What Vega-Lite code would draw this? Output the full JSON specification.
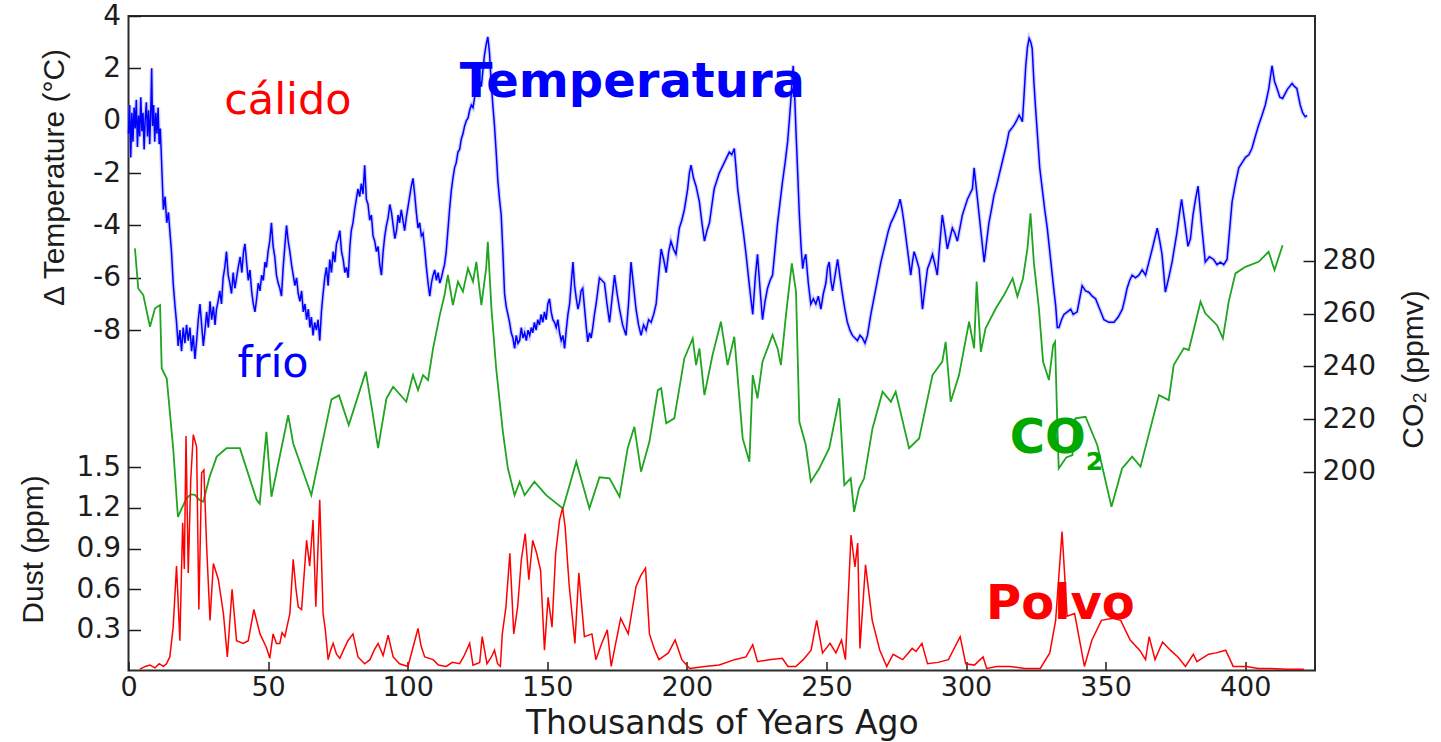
{
  "$schema": "https://vega.github.io/schema/vega-lite/v6.json",
  "width": 1186.5,
  "height": 654.5,
  "autosize": {"type": "none"},
  "padding": {"left": 128.5, "top": 16, "right": 126, "bottom": 71.5},
  "background": "white",
  "config": {
    "view": {"stroke": "#2b2b2b", "strokeWidth": 2},
    "axis": {
      "grid": false,
      "domain": false,
      "labelFont": "DejaVu Sans",
      "labelFontSize": 28,
      "labelColor": "#1c1c1c",
      "labelFlush": false,
      "tickColor": "#1c1c1c",
      "tickWidth": 1.5,
      "titleFont": "Liberation Sans",
      "titleFontWeight": "normal",
      "titleColor": "#1c1c1c"
    }
  },
  "datasets": {
    "temperature": [
      {"age": 0, "t": -0.5}, {"age": 0.4, "t": 0.6}, {"age": 0.8, "t": -1.4}, {"age": 1.2, "t": 0.3}, {"age": 1.6, "t": -0.8},
      {"age": 2, "t": 0.5}, {"age": 2.4, "t": -0.3}, {"age": 2.8, "t": 0.8}, {"age": 3.2, "t": -1.0}, {"age": 3.6, "t": 0.2},
      {"age": 4, "t": -0.6}, {"age": 4.4, "t": 0.9}, {"age": 4.8, "t": -0.4}, {"age": 5.2, "t": 0.3}, {"age": 5.6, "t": -1.1},
      {"age": 6, "t": 0.1}, {"age": 6.4, "t": 0.7}, {"age": 6.8, "t": -0.6}, {"age": 7.2, "t": 0.4}, {"age": 7.6, "t": -0.9},
      {"age": 8, "t": 0.5}, {"age": 8.3, "t": 2.0}, {"age": 8.6, "t": -0.2}, {"age": 9, "t": 0.6}, {"age": 9.4, "t": -0.8},
      {"age": 9.8, "t": 0.3}, {"age": 10.2, "t": -0.5}, {"age": 10.6, "t": 0.5}, {"age": 11, "t": -0.9}, {"age": 11.4, "t": -0.3},
      {"age": 12, "t": -2.0}, {"age": 12.5, "t": -3.4}, {"age": 13.1, "t": -2.9}, {"age": 13.7, "t": -3.9}, {"age": 14.3, "t": -3.5},
      {"age": 14.8, "t": -4.2}, {"age": 15.4, "t": -5.0}, {"age": 16, "t": -6.2}, {"age": 16.6, "t": -7.0}, {"age": 17.2, "t": -7.7},
      {"age": 17.8, "t": -8.6}, {"age": 18.4, "t": -8.0}, {"age": 19, "t": -8.8}, {"age": 19.6, "t": -7.9}, {"age": 20.2, "t": -8.5},
      {"age": 20.8, "t": -7.8}, {"age": 21.4, "t": -8.4}, {"age": 22, "t": -7.9}, {"age": 22.6, "t": -8.8}, {"age": 23.2, "t": -8.2},
      {"age": 23.8, "t": -9.1}, {"age": 24.4, "t": -8.4}, {"age": 25, "t": -7.6}, {"age": 25.6, "t": -7.0}, {"age": 26.2, "t": -7.8},
      {"age": 26.8, "t": -8.6}, {"age": 27.4, "t": -8.0}, {"age": 28, "t": -7.3}, {"age": 28.6, "t": -7.9}, {"age": 29.2, "t": -6.9},
      {"age": 29.8, "t": -7.6}, {"age": 30.4, "t": -7.1}, {"age": 31, "t": -7.8}, {"age": 31.5, "t": -7.2}, {"age": 32.1, "t": -6.9},
      {"age": 32.7, "t": -6.5}, {"age": 33.3, "t": -7.0}, {"age": 33.9, "t": -6.0}, {"age": 34.5, "t": -5.6}, {"age": 35.1, "t": -5.0},
      {"age": 35.7, "t": -5.9}, {"age": 36.3, "t": -6.2}, {"age": 36.9, "t": -6.6}, {"age": 37.5, "t": -5.8}, {"age": 38.1, "t": -6.4},
      {"age": 38.7, "t": -6.0}, {"age": 39.3, "t": -5.6}, {"age": 40, "t": -5.2}, {"age": 40.6, "t": -5.8}, {"age": 41.2, "t": -5.0},
      {"age": 41.7, "t": -4.7}, {"age": 42.3, "t": -5.4}, {"age": 42.9, "t": -6.1}, {"age": 43.5, "t": -5.7}, {"age": 44.1, "t": -6.5},
      {"age": 44.7, "t": -7.0}, {"age": 45.3, "t": -7.3}, {"age": 45.9, "t": -6.8}, {"age": 46.5, "t": -6.2}, {"age": 47.1, "t": -6.5},
      {"age": 47.7, "t": -5.9}, {"age": 48.3, "t": -6.1}, {"age": 48.9, "t": -5.4}, {"age": 49.4, "t": -5.6}, {"age": 50, "t": -5.0},
      {"age": 50.6, "t": -4.6}, {"age": 51.2, "t": -3.9}, {"age": 51.8, "t": -4.8}, {"age": 52.4, "t": -5.2}, {"age": 53, "t": -5.9},
      {"age": 53.6, "t": -6.2}, {"age": 54.2, "t": -6.4}, {"age": 54.8, "t": -6.7}, {"age": 55.4, "t": -5.6}, {"age": 56, "t": -4.8},
      {"age": 56.6, "t": -4.0}, {"age": 57.2, "t": -4.6}, {"age": 57.8, "t": -5.0}, {"age": 58.4, "t": -5.5}, {"age": 59, "t": -5.9},
      {"age": 59.6, "t": -6.3}, {"age": 60.2, "t": -6.0}, {"age": 60.8, "t": -6.6}, {"age": 61.4, "t": -6.9}, {"age": 62, "t": -6.5},
      {"age": 62.6, "t": -7.3}, {"age": 63.2, "t": -7.0}, {"age": 63.8, "t": -7.6}, {"age": 64.4, "t": -7.2}, {"age": 65, "t": -7.9},
      {"age": 65.5, "t": -7.5}, {"age": 66.1, "t": -8.2}, {"age": 66.7, "t": -7.7}, {"age": 67.3, "t": -8.0}, {"age": 67.9, "t": -7.6},
      {"age": 68.5, "t": -8.4}, {"age": 69.1, "t": -7.3}, {"age": 69.7, "t": -6.6}, {"age": 70.3, "t": -6.0}, {"age": 70.9, "t": -5.6},
      {"age": 71.5, "t": -6.3}, {"age": 72.1, "t": -5.3}, {"age": 72.7, "t": -5.8}, {"age": 73.3, "t": -5.0}, {"age": 73.9, "t": -5.4},
      {"age": 74.5, "t": -4.7}, {"age": 75.1, "t": -4.5}, {"age": 75.7, "t": -4.2}, {"age": 76.3, "t": -5.0}, {"age": 76.9, "t": -5.3},
      {"age": 77.5, "t": -5.8}, {"age": 78.1, "t": -5.6}, {"age": 78.7, "t": -6.0}, {"age": 79.3, "t": -4.8}, {"age": 79.8, "t": -4.2},
      {"age": 80.4, "t": -3.9}, {"age": 81, "t": -3.4}, {"age": 81.6, "t": -3.0}, {"age": 82.2, "t": -2.6}, {"age": 82.8, "t": -2.9},
      {"age": 83.4, "t": -2.4}, {"age": 84, "t": -2.8}, {"age": 84.6, "t": -1.7}, {"age": 85.2, "t": -3.0}, {"age": 85.8, "t": -3.2},
      {"age": 86.4, "t": -3.8}, {"age": 87, "t": -3.6}, {"age": 87.6, "t": -4.4}, {"age": 88.2, "t": -4.6}, {"age": 88.8, "t": -5.0},
      {"age": 89.4, "t": -4.8}, {"age": 90, "t": -5.5}, {"age": 90.6, "t": -5.9}, {"age": 91.2, "t": -5.0}, {"age": 91.8, "t": -4.4},
      {"age": 92.4, "t": -4.0}, {"age": 93, "t": -3.7}, {"age": 93.6, "t": -3.2}, {"age": 94.2, "t": -3.5}, {"age": 94.8, "t": -4.0},
      {"age": 95.4, "t": -4.5}, {"age": 96, "t": -4.2}, {"age": 96.6, "t": -3.6}, {"age": 97.1, "t": -3.9}, {"age": 97.7, "t": -3.4},
      {"age": 98.3, "t": -3.8}, {"age": 98.9, "t": -4.2}, {"age": 99.5, "t": -3.7}, {"age": 100.1, "t": -3.3}, {"age": 100.7, "t": -2.9},
      {"age": 101.3, "t": -2.5}, {"age": 101.9, "t": -2.2}, {"age": 102.5, "t": -2.8}, {"age": 103.1, "t": -3.5}, {"age": 103.7, "t": -4.1},
      {"age": 104.3, "t": -3.9}, {"age": 104.9, "t": -4.4}, {"age": 105.5, "t": -4.3}, {"age": 106.1, "t": -4.9}, {"age": 106.7, "t": -5.6},
      {"age": 107.3, "t": -6.2}, {"age": 107.9, "t": -6.7}, {"age": 108.5, "t": -6.2}, {"age": 109.1, "t": -5.9}, {"age": 109.7, "t": -5.7},
      {"age": 110.3, "t": -6.1}, {"age": 110.9, "t": -5.8}, {"age": 111.5, "t": -6.2}, {"age": 112.1, "t": -6.0}, {"age": 112.7, "t": -5.7},
      {"age": 113.2, "t": -5.5}, {"age": 113.8, "t": -5.0}, {"age": 114.4, "t": -4.2}, {"age": 115, "t": -3.4}, {"age": 115.6, "t": -2.7},
      {"age": 116.2, "t": -2.2}, {"age": 116.8, "t": -1.8}, {"age": 117.4, "t": -1.6}, {"age": 118, "t": -1.2}, {"age": 118.6, "t": -1.1},
      {"age": 119.2, "t": -0.7}, {"age": 119.8, "t": -0.5}, {"age": 120.4, "t": -0.2}, {"age": 121, "t": 0.0}, {"age": 121.6, "t": 0.1},
      {"age": 122.2, "t": 0.4}, {"age": 122.8, "t": 0.6}, {"age": 123.4, "t": 0.5}, {"age": 124, "t": 0.9}, {"age": 124.6, "t": 1.1},
      {"age": 125.2, "t": 1.0}, {"age": 125.8, "t": 1.5}, {"age": 126.4, "t": 1.3}, {"age": 127, "t": 2.0}, {"age": 127.5, "t": 2.5},
      {"age": 128.1, "t": 2.9}, {"age": 128.7, "t": 3.2}, {"age": 129.3, "t": 2.6}, {"age": 129.9, "t": 1.5}, {"age": 130.5, "t": 0.6},
      {"age": 131.1, "t": -0.2}, {"age": 131.7, "t": -1.2}, {"age": 132.3, "t": -2.3}, {"age": 132.9, "t": -3.0}, {"age": 133.5, "t": -3.6},
      {"age": 134.1, "t": -5.0}, {"age": 134.7, "t": -6.6}, {"age": 135.3, "t": -7.1}, {"age": 135.9, "t": -7.4}, {"age": 136.5, "t": -7.7},
      {"age": 137.1, "t": -8.1}, {"age": 137.7, "t": -8.3}, {"age": 138.3, "t": -8.7}, {"age": 138.9, "t": -8.2}, {"age": 139.5, "t": -8.5},
      {"age": 140.1, "t": -8.4}, {"age": 140.7, "t": -7.9}, {"age": 141.3, "t": -8.3}, {"age": 141.9, "t": -8.1}, {"age": 142.5, "t": -8.4},
      {"age": 143.1, "t": -8.0}, {"age": 143.7, "t": -8.2}, {"age": 144.3, "t": -7.9}, {"age": 144.8, "t": -8.1}, {"age": 145.4, "t": -7.7},
      {"age": 146, "t": -8.0}, {"age": 146.6, "t": -7.6}, {"age": 147.2, "t": -7.8}, {"age": 147.8, "t": -7.4}, {"age": 148.4, "t": -7.7},
      {"age": 149, "t": -7.3}, {"age": 149.6, "t": -7.6}, {"age": 150.2, "t": -7.0}, {"age": 150.8, "t": -6.8}, {"age": 151.4, "t": -7.3},
      {"age": 152, "t": -7.6}, {"age": 152.6, "t": -7.7}, {"age": 153.2, "t": -7.9}, {"age": 153.8, "t": -7.6}, {"age": 154.4, "t": -8.1},
      {"age": 155, "t": -8.4}, {"age": 155.6, "t": -8.2}, {"age": 156.2, "t": -8.7}, {"age": 156.8, "t": -8.0}, {"age": 157.4, "t": -7.4},
      {"age": 158, "t": -7.0}, {"age": 158.6, "t": -6.2}, {"age": 159.2, "t": -5.4}, {"age": 159.8, "t": -6.3}, {"age": 160.4, "t": -6.8},
      {"age": 161, "t": -7.2}, {"age": 161.6, "t": -6.9}, {"age": 162.1, "t": -6.5}, {"age": 162.7, "t": -6.4}, {"age": 163.3, "t": -7.1},
      {"age": 163.9, "t": -7.8}, {"age": 164.5, "t": -8.45}, {"age": 165.1, "t": -8.1}, {"age": 165.7, "t": -8.3}, {"age": 166.3, "t": -7.9},
      {"age": 166.9, "t": -7.4}, {"age": 167.5, "t": -7.0}, {"age": 168.1, "t": -6.5}, {"age": 168.7, "t": -6.0}, {"age": 170.5, "t": -6.2},
      {"age": 171.4, "t": -7.0}, {"age": 172.3, "t": -7.7}, {"age": 173.2, "t": -6.8}, {"age": 174.1, "t": -5.9}, {"age": 175, "t": -6.6},
      {"age": 175.9, "t": -7.2}, {"age": 177, "t": -7.8}, {"age": 178.2, "t": -8.2}, {"age": 179.1, "t": -7.0}, {"age": 180, "t": -5.4},
      {"age": 180.9, "t": -6.3}, {"age": 181.8, "t": -7.2}, {"age": 182.7, "t": -7.8}, {"age": 183.6, "t": -8.2}, {"age": 184.5, "t": -7.8},
      {"age": 185.4, "t": -8.0}, {"age": 186.3, "t": -7.6}, {"age": 187.2, "t": -7.7}, {"age": 188.1, "t": -7.4}, {"age": 189, "t": -7.0},
      {"age": 189.9, "t": -5.9}, {"age": 190.8, "t": -4.9}, {"age": 191.7, "t": -5.3}, {"age": 192.6, "t": -5.8}, {"age": 193.5, "t": -5.0},
      {"age": 194.3, "t": -4.6}, {"age": 195.2, "t": -4.9}, {"age": 196.1, "t": -5.1}, {"age": 196.7, "t": -4.6}, {"age": 197.3, "t": -4.1},
      {"age": 198.2, "t": -3.8}, {"age": 199.1, "t": -3.4}, {"age": 199.7, "t": -3.0}, {"age": 200.3, "t": -2.6}, {"age": 200.9, "t": -2.0},
      {"age": 201.5, "t": -1.7}, {"age": 202.4, "t": -2.2}, {"age": 203.3, "t": -2.5}, {"age": 204.5, "t": -3.1}, {"age": 205.4, "t": -3.9},
      {"age": 206.3, "t": -4.6}, {"age": 207.2, "t": -4.2}, {"age": 208.1, "t": -3.9}, {"age": 209, "t": -3.2}, {"age": 209.8, "t": -2.6},
      {"age": 210.7, "t": -2.3}, {"age": 211.6, "t": -2.0}, {"age": 212.5, "t": -1.8}, {"age": 213.4, "t": -1.6}, {"age": 214.3, "t": -1.4},
      {"age": 215.2, "t": -1.2}, {"age": 216.1, "t": -1.3}, {"age": 217, "t": -1.06}, {"age": 217.6, "t": -1.8}, {"age": 218.2, "t": -2.6},
      {"age": 218.8, "t": -3.1}, {"age": 219.4, "t": -3.6}, {"age": 220.3, "t": -4.3}, {"age": 221.2, "t": -5.1}, {"age": 222.4, "t": -6.3},
      {"age": 223.6, "t": -7.4}, {"age": 224.5, "t": -6.0}, {"age": 225.3, "t": -5.1}, {"age": 226.2, "t": -6.4}, {"age": 227.1, "t": -7.6},
      {"age": 228, "t": -6.9}, {"age": 228.9, "t": -6.4}, {"age": 229.8, "t": -6.1}, {"age": 230.7, "t": -5.9}, {"age": 231.6, "t": -4.9},
      {"age": 232.5, "t": -3.9}, {"age": 233.4, "t": -3.1}, {"age": 234.3, "t": -2.3}, {"age": 235.2, "t": -1.6}, {"age": 236.1, "t": -0.8},
      {"age": 236.7, "t": 0.0}, {"age": 237.3, "t": 0.85}, {"age": 237.7, "t": 1.6}, {"age": 238.1, "t": 2.1}, {"age": 238.6, "t": 1.0},
      {"age": 239.1, "t": -0.42}, {"age": 239.7, "t": -2.0}, {"age": 240.3, "t": -3.6}, {"age": 240.9, "t": -4.8}, {"age": 241.5, "t": -5.65},
      {"age": 242, "t": -5.3}, {"age": 242.6, "t": -5.1}, {"age": 243.5, "t": -6.2}, {"age": 244.4, "t": -7.0}, {"age": 245.3, "t": -6.8},
      {"age": 246.2, "t": -7.0}, {"age": 247.1, "t": -6.7}, {"age": 248, "t": -7.2}, {"age": 248.9, "t": -6.6}, {"age": 249.8, "t": -6.2},
      {"age": 250.4, "t": -5.6}, {"age": 251, "t": -5.4}, {"age": 251.6, "t": -6.1}, {"age": 252.2, "t": -6.5}, {"age": 253.1, "t": -5.9},
      {"age": 254, "t": -5.3}, {"age": 254.9, "t": -6.0}, {"age": 255.8, "t": -6.67}, {"age": 256.6, "t": -7.2}, {"age": 257.5, "t": -7.7},
      {"age": 258.4, "t": -8.0}, {"age": 259.3, "t": -8.2}, {"age": 260.2, "t": -8.3}, {"age": 261.1, "t": -8.4}, {"age": 262, "t": -8.2},
      {"age": 262.9, "t": -8.3}, {"age": 263.8, "t": -8.5}, {"age": 264.7, "t": -8.2}, {"age": 265.3, "t": -7.8}, {"age": 265.9, "t": -7.4},
      {"age": 266.8, "t": -6.9}, {"age": 267.7, "t": -6.4}, {"age": 268.6, "t": -5.9}, {"age": 269.5, "t": -5.4}, {"age": 270.4, "t": -5.0},
      {"age": 271.3, "t": -4.6}, {"age": 272.2, "t": -4.2}, {"age": 273.1, "t": -3.9}, {"age": 274, "t": -3.7}, {"age": 274.8, "t": -3.5},
      {"age": 275.6, "t": -3.3}, {"age": 276.4, "t": -3.0}, {"age": 277.1, "t": -3.4}, {"age": 277.8, "t": -3.9}, {"age": 278.4, "t": -4.4},
      {"age": 279, "t": -4.9}, {"age": 279.6, "t": -5.4}, {"age": 280.2, "t": -5.9}, {"age": 280.8, "t": -5.4}, {"age": 281.4, "t": -5.0},
      {"age": 282.3, "t": -5.3}, {"age": 283.2, "t": -5.65}, {"age": 283.8, "t": -6.4}, {"age": 284.4, "t": -7.2}, {"age": 285.3, "t": -6.4},
      {"age": 286.2, "t": -5.65}, {"age": 287.1, "t": -5.4}, {"age": 288, "t": -5.1}, {"age": 288.9, "t": -5.5}, {"age": 289.7, "t": -5.9},
      {"age": 290.6, "t": -4.7}, {"age": 291.5, "t": -3.6}, {"age": 292.4, "t": -4.2}, {"age": 293.3, "t": -4.9}, {"age": 294.2, "t": -4.5},
      {"age": 295.1, "t": -4.1}, {"age": 296, "t": -4.3}, {"age": 296.9, "t": -4.6}, {"age": 297.8, "t": -4.1}, {"age": 298.7, "t": -3.6},
      {"age": 299.6, "t": -3.3}, {"age": 300.5, "t": -3.0}, {"age": 301.4, "t": -2.8}, {"age": 302.3, "t": -2.6}, {"age": 302.9, "t": -1.8},
      {"age": 303.8, "t": -2.7}, {"age": 304.7, "t": -3.6}, {"age": 305.6, "t": -4.5}, {"age": 306.5, "t": -5.4}, {"age": 307.4, "t": -4.6},
      {"age": 308.2, "t": -3.9}, {"age": 309.1, "t": -3.4}, {"age": 310, "t": -2.85}, {"age": 310.9, "t": -2.5}, {"age": 311.8, "t": -2.1},
      {"age": 312.7, "t": -1.7}, {"age": 313.6, "t": -1.3}, {"age": 314.5, "t": -0.9}, {"age": 315.4, "t": -0.42}, {"age": 316.3, "t": -0.3},
      {"age": 317.2, "t": -0.17}, {"age": 318.1, "t": 0.0}, {"age": 319, "t": 0.21}, {"age": 319.6, "t": 0.1}, {"age": 320.2, "t": -0.04},
      {"age": 320.8, "t": 1.0}, {"age": 321.4, "t": 2.1}, {"age": 322, "t": 2.8}, {"age": 322.6, "t": 3.15}, {"age": 323.2, "t": 3.0},
      {"age": 323.7, "t": 2.76}, {"age": 324.3, "t": 1.5}, {"age": 324.9, "t": 0.5}, {"age": 325.5, "t": -0.42}, {"age": 326.4, "t": -1.8},
      {"age": 327.3, "t": -2.6}, {"age": 328.2, "t": -3.4}, {"age": 329.1, "t": -4.1}, {"age": 330, "t": -5.0}, {"age": 330.9, "t": -5.9},
      {"age": 331.5, "t": -6.5}, {"age": 332.1, "t": -7.05}, {"age": 332.7, "t": -7.9}, {"age": 333.3, "t": -7.9}, {"age": 334.2, "t": -7.6},
      {"age": 335.1, "t": -7.4}, {"age": 336.3, "t": -7.3}, {"age": 337.5, "t": -7.2}, {"age": 338.4, "t": -7.4}, {"age": 339.8, "t": -7.3},
      {"age": 340.7, "t": -6.8}, {"age": 341.6, "t": -6.3}, {"age": 342.8, "t": -6.5}, {"age": 344, "t": -6.55}, {"age": 345.2, "t": -6.7},
      {"age": 346.4, "t": -6.8}, {"age": 347.9, "t": -7.2}, {"age": 349.4, "t": -7.6}, {"age": 351.2, "t": -7.7}, {"age": 353, "t": -7.7},
      {"age": 354.5, "t": -7.5}, {"age": 356, "t": -7.2}, {"age": 356.9, "t": -6.8}, {"age": 357.7, "t": -6.4}, {"age": 358.6, "t": -6.1},
      {"age": 359.5, "t": -5.9}, {"age": 360.7, "t": -6.0}, {"age": 361.9, "t": -5.9}, {"age": 363.1, "t": -5.7}, {"age": 364.3, "t": -5.9},
      {"age": 365.5, "t": -5.4}, {"age": 366.7, "t": -4.9}, {"age": 367.6, "t": -4.5}, {"age": 368.5, "t": -4.1}, {"age": 369.4, "t": -4.6},
      {"age": 370.2, "t": -5.1}, {"age": 370.8, "t": -5.8}, {"age": 371.4, "t": -6.55}, {"age": 372.6, "t": -6.0}, {"age": 373.8, "t": -5.4},
      {"age": 375.5, "t": -4.3}, {"age": 376.4, "t": -3.6}, {"age": 377.2, "t": -3.0}, {"age": 378.4, "t": -3.9}, {"age": 379.5, "t": -4.8},
      {"age": 380.4, "t": -4.5}, {"age": 381.3, "t": -3.6}, {"age": 382.2, "t": -3.0}, {"age": 383.1, "t": -2.5}, {"age": 384.4, "t": -4.0},
      {"age": 385.7, "t": -5.4}, {"age": 387.2, "t": -5.2}, {"age": 388.7, "t": -5.3}, {"age": 389.9, "t": -5.5}, {"age": 391.1, "t": -5.4},
      {"age": 392.3, "t": -5.5}, {"age": 393.5, "t": -5.3}, {"age": 394.4, "t": -4.2}, {"age": 395.3, "t": -3.1}, {"age": 396.5, "t": -2.4},
      {"age": 397.7, "t": -1.8}, {"age": 398.9, "t": -1.6}, {"age": 400.1, "t": -1.4}, {"age": 401.3, "t": -1.3}, {"age": 402.4, "t": -1.06},
      {"age": 403.6, "t": -0.6}, {"age": 404.8, "t": -0.17}, {"age": 406, "t": 0.2}, {"age": 407.2, "t": 0.6}, {"age": 408.4, "t": 1.2},
      {"age": 409.6, "t": 2.1}, {"age": 410.5, "t": 1.5}, {"age": 411.4, "t": 1.23}, {"age": 412.4, "t": 0.9}, {"age": 413.4, "t": 0.85},
      {"age": 415.1, "t": 1.2}, {"age": 416.8, "t": 1.42}, {"age": 417.7, "t": 1.3}, {"age": 418.5, "t": 1.23}, {"age": 419.7, "t": 0.6},
      {"age": 420.6, "t": 0.3}, {"age": 421.5, "t": 0.15}, {"age": 422.2, "t": 0.2}
    ],
    "co2": [
      {"age": 2.3, "ppmv": 284.7}, {"age": 3.5, "ppmv": 269.5}, {"age": 5.3, "ppmv": 267}, {"age": 7.7, "ppmv": 255}, {"age": 9.5, "ppmv": 262},
      {"age": 11.3, "ppmv": 263.2}, {"age": 11.9, "ppmv": 239.2}, {"age": 13.7, "ppmv": 235.4}, {"age": 16, "ppmv": 209}, {"age": 17.7, "ppmv": 183},
      {"age": 19, "ppmv": 186}, {"age": 20.8, "ppmv": 190}, {"age": 22.3, "ppmv": 191.5}, {"age": 23.8, "ppmv": 191.3}, {"age": 25.3, "ppmv": 189.5},
      {"age": 26.8, "ppmv": 188.7}, {"age": 29, "ppmv": 198}, {"age": 31.6, "ppmv": 205.8}, {"age": 35.1, "ppmv": 209}, {"age": 39.9, "ppmv": 209},
      {"age": 45.9, "ppmv": 189.4}, {"age": 47, "ppmv": 188}, {"age": 49.4, "ppmv": 215.2}, {"age": 51.2, "ppmv": 190.6}, {"age": 57.2, "ppmv": 221.5},
      {"age": 59, "ppmv": 210.8}, {"age": 65.5, "ppmv": 191.2}, {"age": 72.7, "ppmv": 227.5}, {"age": 75.4, "ppmv": 229}, {"age": 78.9, "ppmv": 217.8},
      {"age": 85, "ppmv": 238}, {"age": 87.5, "ppmv": 222}, {"age": 89.4, "ppmv": 209}, {"age": 92.4, "ppmv": 227.9}, {"age": 94.8, "ppmv": 232.3},
      {"age": 99.5, "ppmv": 226.6}, {"age": 101.9, "ppmv": 236.7}, {"age": 103.7, "ppmv": 231}, {"age": 105.5, "ppmv": 236.7}, {"age": 107.3, "ppmv": 234.8},
      {"age": 109.1, "ppmv": 246.8}, {"age": 111.5, "ppmv": 259.4}, {"age": 113.2, "ppmv": 267}, {"age": 114.4, "ppmv": 274.6}, {"age": 116.2, "ppmv": 263.2},
      {"age": 118, "ppmv": 272.1}, {"age": 119.8, "ppmv": 268.3}, {"age": 121.6, "ppmv": 277.1}, {"age": 123.4, "ppmv": 272.1}, {"age": 124.6, "ppmv": 279.6},
      {"age": 126.4, "ppmv": 263.2}, {"age": 128.1, "ppmv": 277.1}, {"age": 128.7, "ppmv": 287.2}, {"age": 130, "ppmv": 262}, {"age": 131.7, "ppmv": 239.2},
      {"age": 134.1, "ppmv": 215.2}, {"age": 135.9, "ppmv": 201.3}, {"age": 138.3, "ppmv": 191.2}, {"age": 140.1, "ppmv": 196.3}, {"age": 141.9, "ppmv": 191.2},
      {"age": 145.4, "ppmv": 196.3}, {"age": 149.6, "ppmv": 191.2}, {"age": 155.6, "ppmv": 186.2}, {"age": 160.4, "ppmv": 203.9}, {"age": 165.1, "ppmv": 186.2},
      {"age": 168.7, "ppmv": 198}, {"age": 172.3, "ppmv": 197.6}, {"age": 175.9, "ppmv": 190.6}, {"age": 178.8, "ppmv": 209}, {"age": 181.2, "ppmv": 217.1},
      {"age": 183.6, "ppmv": 200.1}, {"age": 186.6, "ppmv": 211.5}, {"age": 189.6, "ppmv": 231}, {"age": 190.8, "ppmv": 231.7}, {"age": 192.6, "ppmv": 218.4},
      {"age": 195.5, "ppmv": 220.3}, {"age": 199.1, "ppmv": 243}, {"age": 202.1, "ppmv": 250.6}, {"age": 203.3, "ppmv": 240.5}, {"age": 204.5, "ppmv": 246.8},
      {"age": 206.3, "ppmv": 229.1}, {"age": 209.2, "ppmv": 244.3}, {"age": 212.2, "ppmv": 256.9}, {"age": 214.6, "ppmv": 240.5}, {"age": 217, "ppmv": 251.2},
      {"age": 220, "ppmv": 212.7}, {"age": 222.4, "ppmv": 203.9}, {"age": 223.6, "ppmv": 236.7}, {"age": 225.3, "ppmv": 227.9}, {"age": 227.1, "ppmv": 241.8},
      {"age": 230.7, "ppmv": 251.9}, {"age": 232.5, "ppmv": 246.8}, {"age": 233.7, "ppmv": 240.5}, {"age": 235.5, "ppmv": 259.4}, {"age": 237.6, "ppmv": 279},
      {"age": 239.1, "ppmv": 268.3}, {"age": 240.3, "ppmv": 219}, {"age": 242.6, "ppmv": 210.2}, {"age": 244.4, "ppmv": 196.3}, {"age": 247.4, "ppmv": 201.3},
      {"age": 251, "ppmv": 209}, {"age": 254.6, "ppmv": 227.9}, {"age": 256.4, "ppmv": 195}, {"age": 258.7, "ppmv": 197.6}, {"age": 259.9, "ppmv": 184.9},
      {"age": 261.7, "ppmv": 193.8}, {"age": 263.5, "ppmv": 197.6}, {"age": 266.5, "ppmv": 216.5}, {"age": 270.1, "ppmv": 230.4}, {"age": 273.1, "ppmv": 226.6},
      {"age": 274.8, "ppmv": 230.4}, {"age": 279.6, "ppmv": 209}, {"age": 283.2, "ppmv": 212.7}, {"age": 288, "ppmv": 236.7}, {"age": 291.5, "ppmv": 241.8},
      {"age": 292.7, "ppmv": 249.3}, {"age": 294.5, "ppmv": 226.6}, {"age": 297.5, "ppmv": 236.7}, {"age": 301.1, "ppmv": 256.9}, {"age": 302.9, "ppmv": 246.8},
      {"age": 303.8, "ppmv": 272.1}, {"age": 305.3, "ppmv": 245.5}, {"age": 307, "ppmv": 254.4}, {"age": 310.7, "ppmv": 262}, {"age": 313.6, "ppmv": 267},
      {"age": 316.7, "ppmv": 273.3}, {"age": 318.4, "ppmv": 266.5}, {"age": 320.4, "ppmv": 273.3}, {"age": 322, "ppmv": 284.7}, {"age": 323.1, "ppmv": 298},
      {"age": 324.3, "ppmv": 279.3}, {"age": 326.1, "ppmv": 262}, {"age": 327.6, "ppmv": 241.7}, {"age": 329.7, "ppmv": 234.8}, {"age": 331.2, "ppmv": 248},
      {"age": 331.9, "ppmv": 249.3}, {"age": 332.7, "ppmv": 217.8}, {"age": 333.2, "ppmv": 201.3}, {"age": 335.9, "ppmv": 205.5}, {"age": 338.1, "ppmv": 206.4},
      {"age": 339.2, "ppmv": 220.3}, {"age": 342.8, "ppmv": 220.9}, {"age": 347, "ppmv": 210.2}, {"age": 352.1, "ppmv": 186.8}, {"age": 355.9, "ppmv": 201.3},
      {"age": 359.5, "ppmv": 205.8}, {"age": 362.5, "ppmv": 202}, {"age": 369.1, "ppmv": 229.1}, {"age": 372.6, "ppmv": 227.2}, {"age": 374.4, "ppmv": 240.5},
      {"age": 378, "ppmv": 246.8}, {"age": 379.8, "ppmv": 246.2}, {"age": 384, "ppmv": 264.5}, {"age": 385.7, "ppmv": 260.1}, {"age": 389.9, "ppmv": 255.6},
      {"age": 392, "ppmv": 250.6}, {"age": 394.1, "ppmv": 264.5}, {"age": 396.5, "ppmv": 275.2}, {"age": 400.1, "ppmv": 277.7}, {"age": 404.8, "ppmv": 279.6},
      {"age": 408.4, "ppmv": 283.4}, {"age": 410.5, "ppmv": 276.5}, {"age": 413.4, "ppmv": 285.9}
    ],
    "dust": [
      {"age": 4.1, "ppm": 0.01}, {"age": 6, "ppm": 0.03}, {"age": 7.7, "ppm": 0.04}, {"age": 9.5, "ppm": 0.02}, {"age": 11, "ppm": 0.05},
      {"age": 12.5, "ppm": 0.03}, {"age": 13.6, "ppm": 0.05}, {"age": 14.8, "ppm": 0.1}, {"age": 16, "ppm": 0.32}, {"age": 17.2, "ppm": 0.77},
      {"age": 17.8, "ppm": 0.5}, {"age": 18.4, "ppm": 0.22}, {"age": 19.4, "ppm": 1.09}, {"age": 20, "ppm": 0.75}, {"age": 20.6, "ppm": 1.73},
      {"age": 21.4, "ppm": 0.72}, {"age": 22.3, "ppm": 1.41}, {"age": 23.2, "ppm": 1.74}, {"age": 24.4, "ppm": 1.65}, {"age": 25.2, "ppm": 0.45},
      {"age": 26.2, "ppm": 1.46}, {"age": 27, "ppm": 1.48}, {"age": 28, "ppm": 0.91}, {"age": 29.2, "ppm": 0.37}, {"age": 30.4, "ppm": 0.79},
      {"age": 32.2, "ppm": 0.67}, {"age": 34, "ppm": 0.42}, {"age": 35.4, "ppm": 0.1}, {"age": 37.1, "ppm": 0.6}, {"age": 38.7, "ppm": 0.22},
      {"age": 41.1, "ppm": 0.2}, {"age": 42.9, "ppm": 0.22}, {"age": 44.9, "ppm": 0.45}, {"age": 47.1, "ppm": 0.27}, {"age": 49.4, "ppm": 0.17},
      {"age": 50.6, "ppm": 0.09}, {"age": 51.8, "ppm": 0.27}, {"age": 53, "ppm": 0.2}, {"age": 54.2, "ppm": 0.2}, {"age": 55, "ppm": 0.28},
      {"age": 56, "ppm": 0.25}, {"age": 57.8, "ppm": 0.42}, {"age": 59, "ppm": 0.82}, {"age": 60, "ppm": 0.6}, {"age": 60.8, "ppm": 0.47},
      {"age": 62, "ppm": 0.45}, {"age": 63.8, "ppm": 0.96}, {"age": 64.9, "ppm": 0.77}, {"age": 66.1, "ppm": 1.11}, {"age": 67.1, "ppm": 0.47},
      {"age": 68.5, "ppm": 1.26}, {"age": 69.7, "ppm": 0.42}, {"age": 70.5, "ppm": 0.3}, {"age": 71.5, "ppm": 0.08}, {"age": 72.4, "ppm": 0.15},
      {"age": 73.3, "ppm": 0.2}, {"age": 74.5, "ppm": 0.12}, {"age": 75.7, "ppm": 0.09}, {"age": 77, "ppm": 0.15}, {"age": 78.6, "ppm": 0.22},
      {"age": 80.4, "ppm": 0.27}, {"age": 82.2, "ppm": 0.1}, {"age": 84.6, "ppm": 0.05}, {"age": 86.5, "ppm": 0.08}, {"age": 88, "ppm": 0.15},
      {"age": 89.4, "ppm": 0.2}, {"age": 91.2, "ppm": 0.11}, {"age": 93, "ppm": 0.26}, {"age": 94.8, "ppm": 0.1}, {"age": 97.1, "ppm": 0.05},
      {"age": 100.1, "ppm": 0.03}, {"age": 101.9, "ppm": 0.17}, {"age": 103.7, "ppm": 0.31}, {"age": 104.8, "ppm": 0.18}, {"age": 106.1, "ppm": 0.1},
      {"age": 109.1, "ppm": 0.08}, {"age": 111, "ppm": 0.04}, {"age": 113.8, "ppm": 0.03}, {"age": 116, "ppm": 0.06}, {"age": 118.6, "ppm": 0.05},
      {"age": 120, "ppm": 0.1}, {"age": 122.2, "ppm": 0.2}, {"age": 123.4, "ppm": 0.04}, {"age": 125.8, "ppm": 0.06}, {"age": 126.7, "ppm": 0.25},
      {"age": 128.4, "ppm": 0.05}, {"age": 130, "ppm": 0.1}, {"age": 131.1, "ppm": 0.15}, {"age": 132.2, "ppm": 0.05}, {"age": 133.2, "ppm": 0.03},
      {"age": 133.9, "ppm": 0.27}, {"age": 135.2, "ppm": 0.47}, {"age": 136.6, "ppm": 0.865}, {"age": 138, "ppm": 0.27}, {"age": 139.4, "ppm": 0.47},
      {"age": 140.7, "ppm": 0.815}, {"age": 142.1, "ppm": 1.01}, {"age": 143.4, "ppm": 0.67}, {"age": 144.8, "ppm": 0.96}, {"age": 146.2, "ppm": 0.865},
      {"age": 147.6, "ppm": 0.74}, {"age": 149, "ppm": 0.15}, {"age": 150.3, "ppm": 0.54}, {"age": 151.7, "ppm": 0.32}, {"age": 153, "ppm": 0.865},
      {"age": 154.4, "ppm": 1.11}, {"age": 155.5, "ppm": 1.2}, {"age": 156.4, "ppm": 1.06}, {"age": 157.8, "ppm": 0.64}, {"age": 159.9, "ppm": 0.2},
      {"age": 161.3, "ppm": 0.72}, {"age": 163.3, "ppm": 0.25}, {"age": 166, "ppm": 0.27}, {"age": 167.4, "ppm": 0.08}, {"age": 169.5, "ppm": 0.2},
      {"age": 171.5, "ppm": 0.3}, {"age": 172.9, "ppm": 0.03}, {"age": 174.5, "ppm": 0.2}, {"age": 176.3, "ppm": 0.385}, {"age": 179, "ppm": 0.27},
      {"age": 181.8, "ppm": 0.62}, {"age": 183.5, "ppm": 0.7}, {"age": 185.2, "ppm": 0.755}, {"age": 186.6, "ppm": 0.27}, {"age": 188.5, "ppm": 0.15},
      {"age": 190, "ppm": 0.08}, {"age": 193.4, "ppm": 0.13}, {"age": 195.8, "ppm": 0.225}, {"age": 198.2, "ppm": 0.08}, {"age": 201, "ppm": 0.015},
      {"age": 206.4, "ppm": 0.03}, {"age": 211.6, "ppm": 0.04}, {"age": 217.1, "ppm": 0.08}, {"age": 221.2, "ppm": 0.1}, {"age": 223.6, "ppm": 0.19},
      {"age": 225.3, "ppm": 0.065}, {"age": 229.4, "ppm": 0.08}, {"age": 234.2, "ppm": 0.09}, {"age": 236.2, "ppm": 0.03}, {"age": 239, "ppm": 0.03},
      {"age": 241.7, "ppm": 0.08}, {"age": 244.5, "ppm": 0.15}, {"age": 246.5, "ppm": 0.37}, {"age": 248.6, "ppm": 0.13}, {"age": 251.3, "ppm": 0.2},
      {"age": 253.4, "ppm": 0.13}, {"age": 255.4, "ppm": 0.225}, {"age": 256.8, "ppm": 0.08}, {"age": 258.8, "ppm": 1.0}, {"age": 260.2, "ppm": 0.765},
      {"age": 261.2, "ppm": 0.94}, {"age": 262, "ppm": 0.163}, {"age": 264, "ppm": 0.78}, {"age": 266.4, "ppm": 0.37}, {"age": 269.1, "ppm": 0.15},
      {"age": 271.6, "ppm": 0.03}, {"age": 273.9, "ppm": 0.12}, {"age": 277.3, "ppm": 0.08}, {"age": 280.7, "ppm": 0.163}, {"age": 282.1, "ppm": 0.14},
      {"age": 284.2, "ppm": 0.2}, {"age": 286.2, "ppm": 0.05}, {"age": 290, "ppm": 0.06}, {"age": 293.7, "ppm": 0.08}, {"age": 297.9, "ppm": 0.25},
      {"age": 299.9, "ppm": 0.05}, {"age": 303, "ppm": 0.04}, {"age": 306.1, "ppm": 0.1}, {"age": 307.4, "ppm": 0.015}, {"age": 311, "ppm": 0.03},
      {"age": 315.7, "ppm": 0.03}, {"age": 321.1, "ppm": 0.015}, {"age": 326.6, "ppm": 0.015}, {"age": 330, "ppm": 0.13}, {"age": 332.1, "ppm": 0.37},
      {"age": 334.4, "ppm": 1.025}, {"age": 336.2, "ppm": 0.4}, {"age": 338.9, "ppm": 0.42}, {"age": 342.4, "ppm": 0.03}, {"age": 345.1, "ppm": 0.225},
      {"age": 348.5, "ppm": 0.37}, {"age": 352.6, "ppm": 0.385}, {"age": 355.4, "ppm": 0.37}, {"age": 358.8, "ppm": 0.225}, {"age": 362.2, "ppm": 0.15},
      {"age": 364.3, "ppm": 0.08}, {"age": 365.6, "ppm": 0.25}, {"age": 367.7, "ppm": 0.08}, {"age": 370.4, "ppm": 0.21}, {"age": 373.2, "ppm": 0.15},
      {"age": 375.9, "ppm": 0.1}, {"age": 378.6, "ppm": 0.03}, {"age": 381.4, "ppm": 0.12}, {"age": 382.7, "ppm": 0.065}, {"age": 386.9, "ppm": 0.12},
      {"age": 389.6, "ppm": 0.13}, {"age": 393, "ppm": 0.15}, {"age": 395.7, "ppm": 0.03}, {"age": 400.5, "ppm": 0.03}, {"age": 404.6, "ppm": 0.015},
      {"age": 408.8, "ppm": 0.015}, {"age": 415, "ppm": 0.01}, {"age": 421, "ppm": 0.01}
    ],
    "notes": [
      {"label": "cálido", "age": 57.1, "pos": 0.24},
      {"label": "frío", "age": 51.8, "pos": -9.8},
      {"label": "Temperatura", "age": 180.5, "pos": 0.9},
      {"label": "CO", "age": 315.7, "pos": -12.71},
      {"label": "2", "age": 342.9, "pos": -13.36},
      {"label": "Polvo", "age": 333.8, "pos": -19.02}
    ]
  },
  "encoding": {
    "x": {
      "field": "age",
      "type": "quantitative",
      "scale": {"domain": [0, 425], "nice": false, "zero": false},
      "axis": {
        "title": "Thousands of Years Ago",
        "values": [0, 50, 100, 150, 200, 250, 300, 350, 400],
        "tickSize": -9,
        "labelPadding": 13,
        "labelFontSize": 27,
        "titleFont": "DejaVu Sans",
        "titleFontSize": 33,
        "titleBaseline": "alphabetic",
        "titleY": 63
      }
    }
  },
  "layer": [
    {
      "data": {"name": "temperature"},
      "encoding": {
        "y": {
          "field": "t",
          "type": "quantitative",
          "scale": {"domain": [-21, 4], "nice": false, "zero": false},
          "axis": {
            "orient": "left",
            "title": "Δ Temperature (°C)",
            "values": [-8, -6, -4, -2, 0, 2, 4],
            "labelExpr": "toString(datum.value)",
            "tickSize": -12,
            "labelPadding": 20,
            "titleFontSize": 30,
            "titleAngle": 270,
            "titleBaseline": "alphabetic",
            "titleAlign": "center",
            "titleX": -65,
            "titleY": 161
          }
        }
      },
      "layer": [
        {"mark": {"type": "line", "color": "#8c8cff", "strokeWidth": 4, "opacity": 0.4}},
        {"mark": {"type": "line", "color": "#0000ff", "strokeWidth": 1.5}}
      ]
    },
    {
      "data": {"name": "co2"},
      "mark": {"type": "line", "color": "#1fa51f", "strokeWidth": 1.8},
      "encoding": {
        "y": {
          "field": "ppmv",
          "type": "quantitative",
          "scale": {"domain": [124.8, 372.7], "nice": false, "zero": false},
          "axis": {
            "orient": "right",
            "title": "CO₂ (ppmv)",
            "values": [200, 220, 240, 260, 280],
            "tickSize": -12,
            "labelPadding": 19,
            "titleFontSize": 30,
            "titleAngle": 270,
            "titleBaseline": "alphabetic",
            "titleAlign": "center",
            "titleX": 107,
            "titleY": 353
          }
        }
      }
    },
    {
      "data": {"name": "dust"},
      "mark": {"type": "line", "color": "#ff0000", "strokeWidth": 1.5},
      "encoding": {
        "y": {
          "field": "ppm",
          "type": "quantitative",
          "scale": {"domain": [0, 4.83], "nice": false, "zero": false},
          "axis": {
            "orient": "left",
            "title": "Dust (ppm)",
            "values": [0.3, 0.6, 0.9, 1.2, 1.5],
            "format": ".1f",
            "tickSize": -12,
            "labelPadding": 20,
            "titleFontSize": 30,
            "titleAngle": 270,
            "titleBaseline": "alphabetic",
            "titleAlign": "center",
            "titleX": -86,
            "titleY": 533
          }
        }
      }
    },
    {
      "data": {"name": "notes"},
      "transform": [{"filter": "datum.label === 'cálido'"}],
      "mark": {"type": "text", "font": "DejaVu Sans", "fontSize": 43, "color": "#ff0000", "align": "center", "baseline": "alphabetic"},
      "encoding": {
        "y": {"field": "pos", "type": "quantitative", "scale": {"domain": [-21, 4], "nice": false, "zero": false}, "axis": null},
        "text": {"field": "label"}
      }
    },
    {
      "data": {"name": "notes"},
      "transform": [{"filter": "datum.label === 'frío'"}],
      "mark": {"type": "text", "font": "DejaVu Sans", "fontSize": 43, "color": "#0000ff", "align": "center", "baseline": "alphabetic"},
      "encoding": {
        "y": {"field": "pos", "type": "quantitative", "scale": {"domain": [-21, 4], "nice": false, "zero": false}, "axis": null},
        "text": {"field": "label"}
      }
    },
    {
      "data": {"name": "notes"},
      "transform": [{"filter": "datum.label === 'Temperatura'"}],
      "mark": {"type": "text", "font": "DejaVu Sans", "fontSize": 48, "fontWeight": "bold", "color": "#0000ff", "align": "center", "baseline": "alphabetic"},
      "encoding": {
        "y": {"field": "pos", "type": "quantitative", "scale": {"domain": [-21, 4], "nice": false, "zero": false}, "axis": null},
        "text": {"field": "label"}
      }
    },
    {
      "data": {"name": "notes"},
      "transform": [{"filter": "datum.label === 'CO'"}],
      "mark": {"type": "text", "font": "DejaVu Sans", "fontSize": 48, "fontWeight": "bold", "color": "#00a800", "align": "left", "baseline": "alphabetic"},
      "encoding": {
        "y": {"field": "pos", "type": "quantitative", "scale": {"domain": [-21, 4], "nice": false, "zero": false}, "axis": null},
        "text": {"field": "label"}
      }
    },
    {
      "data": {"name": "notes"},
      "transform": [{"filter": "datum.label === '2'"}],
      "mark": {"type": "text", "font": "DejaVu Sans", "fontSize": 25, "fontWeight": "bold", "color": "#00a800", "align": "left", "baseline": "alphabetic"},
      "encoding": {
        "y": {"field": "pos", "type": "quantitative", "scale": {"domain": [-21, 4], "nice": false, "zero": false}, "axis": null},
        "text": {"field": "label"}
      }
    },
    {
      "data": {"name": "notes"},
      "transform": [{"filter": "datum.label === 'Polvo'"}],
      "mark": {"type": "text", "font": "DejaVu Sans", "fontSize": 48, "fontWeight": "bold", "color": "#ff0000", "align": "center", "baseline": "alphabetic"},
      "encoding": {
        "y": {"field": "pos", "type": "quantitative", "scale": {"domain": [-21, 4], "nice": false, "zero": false}, "axis": null},
        "text": {"field": "label"}
      }
    }
  ],
  "resolve": {"scale": {"y": "independent"}, "axis": {"y": "independent"}}
}
